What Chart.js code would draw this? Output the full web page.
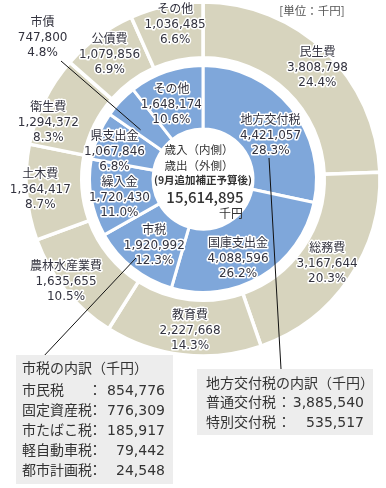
<!DOCTYPE html>
<html lang="ja">
<head>
<meta charset="utf-8">
<script src="https://cdn.jsdelivr.net/npm/chart.js@4.4.1/dist/chart.umd.min.js"></script>
<style>
    html, body { margin: 0; padding: 0; background: #fff; }
    #wrap { position: relative; width: 386px; height: 488px; }
    #budgetChart { display: block; width: 386px; height: 488px; }
</style>
</head>
<body>
<div id="wrap"><canvas id="budgetChart" width="386" height="488"></canvas></div>
<script>
// 歳出（外側）
const expLabels = ['民生費', '総務費', '教育費', '農林水産業費', '土木費', '衛生費', '公債費', 'その他'];
const expValues = [3808798, 3167644, 2227668, 1635655, 1364417, 1294372, 1079856, 1036485];
const expPct = ['24.4%', '20.3%', '14.3%', '10.5%', '8.7%', '8.3%', '6.9%', '6.6%'];

// 歳入（内側）
const revLabels = ['地方交付税', '国庫支出金', '市税', '繰入金', '県支出金', '市債', 'その他'];
const revValues = [4421057, 4088596, 1920992, 1720430, 1067846, 747800, 1648174];
const revPct = ['28.3%', '26.2%', '12.3%', '11.0%', '6.8%', '4.8%', '10.6%'];

const totalValue = 15614895;

// 内訳
const cityTaxItems = ['市民税', '固定資産税', '市たばこ税', '軽自動車税', '都市計画税'];
const cityTaxValues = [854776, 776309, 185917, 79442, 24548];
const grantItems = ['普通交付税', '特別交付税'];
const grantValues = [3885540, 535517];

const FONT = '"DejaVu Sans", "Noto Sans CJK JP", sans-serif';
const JP_FONT = '"Noto Sans CJK JP", sans-serif';
const TAN = '#d7d4be';
const BLUE = '#7fa7da';

// ラベル位置の微調整（弧の中心点からのずれ）
const outerNudge = [[11, -4], [1, 1], [4, 4], [-21, 9], [-14, 0], [-21, 10], [-5, -4], [3, -8]];
const innerNudge = [[4, 8], [-7, 10], [2, 3], [-3, 5], [-13, 4], [-101, -85], [-5, 3]];

const fmt = (v) => v.toLocaleString('en-US');

function haloText(ctx, text, x, y) {
    ctx.strokeText(text, x, y);
    ctx.fillText(text, x, y);
}

function drawBlock(ctx, lines, x, y) {
    const step = 15;
    const top = y - step * (lines.length - 1) / 2;
    lines.forEach((t, i) => haloText(ctx, t, x, top + i * step));
}

const labelPlugin = {
    id: 'ringLabels',
    afterDatasetsDraw(chart) {
        const ctx = chart.ctx;
        const outerMeta = chart.getDatasetMeta(0);
        const innerMeta = chart.getDatasetMeta(2);
        const cx = outerMeta.data[0].x;
        const cy = outerMeta.data[0].y;

        ctx.save();

        // 引き出し線
        ctx.strokeStyle = '#111';
        ctx.lineWidth = 1;
        const bondPt = innerMeta.data[5].getCenterPoint();
        ctx.beginPath();
        ctx.moveTo(61, 61);
        ctx.lineTo(bondPt.x - 3, bondPt.y + 7);
        ctx.moveTo(136, 258);
        ctx.lineTo(42, 358);
        ctx.moveTo(269, 158);
        ctx.lineTo(281, 369);
        ctx.stroke();

        ctx.textAlign = 'center';
        ctx.textBaseline = 'middle';
        ctx.lineJoin = 'round';
        ctx.strokeStyle = '#fff';
        ctx.lineWidth = 3;
        ctx.fillStyle = '#33333f';
        ctx.font = '12px ' + FONT;

        outerMeta.data.forEach((arc, i) => {
            const p = arc.getCenterPoint();
            drawBlock(ctx, [expLabels[i], fmt(expValues[i]), expPct[i]],
                p.x + outerNudge[i][0], p.y + outerNudge[i][1]);
        });
        innerMeta.data.forEach((arc, i) => {
            const p = arc.getCenterPoint();
            drawBlock(ctx, [revLabels[i], fmt(revValues[i]), revPct[i]],
                p.x + innerNudge[i][0], p.y + innerNudge[i][1]);
        });

        // 中央
        ctx.fillStyle = '#333';
        ctx.font = '11.5px ' + JP_FONT;
        ctx.fillText('歳入（内側）', cx - 4, cy - 29);
        ctx.fillText('歳出（外側）', cx - 4, cy - 13);
        ctx.font = 'bold 10.5px ' + JP_FONT;
        ctx.fillText('(9月追加補正予算後)', cx, cy + 1);
        ctx.font = '500 15px ' + JP_FONT;
        ctx.fillText(fmt(totalValue), cx + 2, cy + 18);
        ctx.font = '12px ' + JP_FONT;
        ctx.textAlign = 'right';
        ctx.fillText('千円', cx + 40, cy + 34);

        // 単位
        ctx.textAlign = 'center';
        ctx.fillStyle = '#555';
        ctx.font = '11.5px ' + JP_FONT;
        ctx.fillText('[単位：千円]', 312, 11);

        // 内訳ボックス
        ctx.fillStyle = '#ededed';
        ctx.fillRect(16, 355, 157, 129);
        ctx.fillRect(197, 369, 176, 66);

        ctx.fillStyle = '#333';
        ctx.font = '14px ' + FONT;
        ctx.textAlign = 'left';
        ctx.fillText('市税の内訳（千円）', 22, 369);
        cityTaxItems.forEach((name, i) => {
            const y = 391 + i * 20;
            ctx.textAlign = 'left';
            ctx.fillText(name, 22, y);
            ctx.fillText('：', 88, y);
            ctx.textAlign = 'right';
            ctx.fillText(fmt(cityTaxValues[i]), 165, y);
        });

        ctx.textAlign = 'left';
        ctx.fillText('地方交付税の内訳（千円）', 206, 384);
        grantItems.forEach((name, i) => {
            const y = 403 + i * 20;
            ctx.textAlign = 'left';
            ctx.fillText(name, 206, y);
            ctx.fillText('：', 277, y);
            ctx.textAlign = 'right';
            ctx.fillText(fmt(grantValues[i]), 364, y);
        });

        ctx.restore();
    }
};

const ctx = document.getElementById('budgetChart').getContext('2d');
const budgetChart = new Chart(ctx, {
    type: 'doughnut',
    data: {
        labels: expLabels,
        datasets: [
            {
                label: '歳出',
                data: expValues,
                backgroundColor: TAN,
                borderColor: '#fff',
                borderWidth: 3.5,
                weight: 55.75
            },
            {
                label: '',
                data: [1],
                backgroundColor: 'rgba(0,0,0,0)',
                borderWidth: 0,
                weight: 7.75
            },
            {
                label: '歳入',
                data: revValues,
                backgroundColor: BLUE,
                borderColor: '#fff',
                borderWidth: 3,
                weight: 63.5
            }
        ]
    },
    options: {
        responsive: false,
        animation: false,
        cutout: 50,
        layout: {
            padding: { left: 24.25, top: 0.25, right: 4.25, bottom: 130.25 }
        },
        plugins: {
            legend: { display: false },
            tooltip: { enabled: false }
        },
        events: []
    },
    plugins: [labelPlugin]
});
</script>
</body>
</html>
